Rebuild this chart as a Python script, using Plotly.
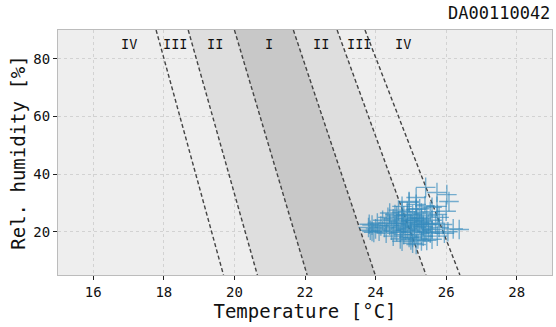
import plotly.graph_objects as go

# comfort zone boundaries: temperature at RH=90 (top) and RH=5 (bottom)
rh_top, rh_bottom = 90, 5
bound_top_x = [17.78, 18.69, 20.0, 21.67, 22.91, 23.70]
bound_bottom_x = [19.69, 20.65, 22.06, 23.99, 25.43, 26.39]

zone_labels = ["IV", "III", "II", "I", "II", "III", "IV"]
zone_label_x = [17.02, 18.32, 19.46, 20.99, 22.46, 23.54, 24.78]
zone_label_y = 85.2

temp = [23.8, 23.85, 23.9, 23.95, 24.0, 24.05, 24.1, 24.15, 24.2, 24.25, 24.3, 24.3,
        24.35, 24.4, 24.45, 24.5, 24.5, 24.55, 24.6, 24.6, 24.65, 24.75, 24.7, 24.75,
        24.75, 24.8, 24.8, 24.85, 24.75, 24.9, 24.9, 24.95, 24.95, 24.95, 25.0, 25.0,
        25.05, 25.05, 25.1, 25.1, 25.15, 25.15, 25.2, 25.2, 25.15, 25.25, 25.15, 25.3,
        25.3, 25.35, 25.35, 25.4, 25.4, 25.45, 25.45, 25.5, 25.74, 25.55, 25.55, 25.6,
        25.6, 25.6, 25.7, 25.74, 25.75, 25.75, 25.8, 26.08, 25.9, 25.95, 25.42, 26.05,
        26.02, 26.2, 26.37, 25.0, 24.9, 25.1, 25.2, 24.8, 25.3, 25.4, 24.6, 25.5,
        25.6, 24.4, 24.7, 25.8, 26.0, 24.95, 25.25, 25.15, 24.55, 24.65, 25.05, 25.35,
        24.85, 25.15, 25.45, 24.75, 23.82, 23.9, 25.0, 25.3]
rel_hum = [21.5, 20.5, 22.3, 19.8, 21.0, 23.0, 20.2, 22.0, 24.0, 21.5, 19.5, 23.0,
           25.0, 22.2, 20.5, 24.5, 18.5, 26.0, 22.8, 20.0, 27.5, 24.0, 17.5, 21.5,
           28.8, 25.5, 19.0, 23.0, 16.7, 27.0, 21.0, 24.8, 18.0, 30.2, 22.5, 20.0,
           26.0, 16.0, 23.8, 19.0, 27.8, 21.5, 25.0, 17.5, 31.9, 22.5, 15.6, 20.5,
           26.5, 23.5, 18.5, 29.0, 21.0, 25.5, 17.0, 22.5, 33.6, 27.0, 19.5, 24.0,
           20.8, 17.4, 23.0, 28.8, 18.5, 26.0, 21.5, 30.5, 22.5, 19.5, 35.4, 20.0,
           32.9, 21.0, 20.8, 24.0, 25.8, 22.0, 23.2, 22.0, 24.5, 19.8, 25.5, 20.0,
           28.5, 26.5, 19.8, 25.0, 27.1, 30.5, 28.0, 29.5, 21.0, 23.5, 18.0, 21.8,
           20.5, 24.5, 22.8, 26.8, 22.6, 20.1, 17.2, 16.8]

x_ticks = [16, 18, 20, 22, 24, 26, 28]
y_ticks = [20, 40, 60, 80]

MONO = "DejaVu Sans Mono"
fig = go.Figure()

def band(i, j, color):
    xs = [bound_top_x[i], bound_bottom_x[i], bound_bottom_x[j], bound_top_x[j], bound_top_x[i]]
    ys = [rh_top, rh_bottom, rh_bottom, rh_top, rh_top]
    fig.add_trace(go.Scatter(x=xs, y=ys, fill="toself", fillcolor=color, mode="none",
                             hoverinfo="skip", showlegend=False))

band(1, 4, "#dedede")
band(2, 3, "#c8c8c8")

for tx, bx in zip(bound_top_x, bound_bottom_x):
    fig.add_trace(go.Scatter(x=[tx, bx], y=[rh_top, rh_bottom], mode="lines",
                             line=dict(color="#444444", width=1.4, dash="4px,2.5px"),
                             hoverinfo="skip", showlegend=False))

fig.add_trace(go.Scatter(x=temp, y=rel_hum, mode="markers",
                         marker=dict(symbol="cross-thin", size=14, opacity=0.65,
                                     line=dict(color="#348ABD", width=1.4)),
                         showlegend=False))

for lab, lx in zip(zone_labels, zone_label_x):
    fig.add_annotation(x=lx, y=zone_label_y, text=lab, showarrow=False,
                       font=dict(family=MONO, size=13.5, color="#111111"))

fig.add_annotation(xref="paper", yref="paper", x=1.0, y=1.0, yshift=5,
                   xanchor="right", yanchor="bottom", text="DA00110042",
                   showarrow=False, font=dict(family=MONO, size=17, color="#111111"))

axis_common = dict(showgrid=True, gridcolor="#d2d2d2", griddash="dot", gridwidth=1,
                   showline=True, linecolor="#bcbcbc", linewidth=1, mirror=True,
                   ticks="outside", ticklen=4, tickcolor="#222222",
                   tickfont=dict(family=MONO, size=14, color="#111111"),
                   zeroline=False, automargin=False)

fig.update_layout(
    width=556, height=327,
    margin=dict(l=58, r=4, t=30, b=52),
    paper_bgcolor="white", plot_bgcolor="#eeeeee",
    xaxis=dict(range=[15, 29], tickvals=x_ticks,
               title=dict(text="Temperature [°C]", font=dict(family=MONO, size=19, color="#111111"),
                          standoff=4),
               **axis_common),
    yaxis=dict(range=[5, 90], tickvals=y_ticks,
               title=dict(text="Rel. humidity [%]", font=dict(family=MONO, size=19, color="#111111"),
                          standoff=2),
               **axis_common),
)

fig.write_html("out.html", config={"displayModeBar": False},
               post_script="document.body.style.margin='0px';")
